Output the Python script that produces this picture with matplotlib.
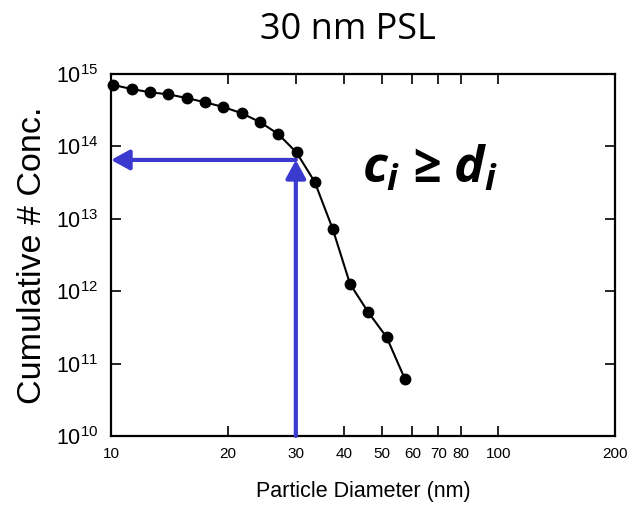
import matplotlib
matplotlib.use("Agg")
import matplotlib.pyplot as plt
from matplotlib.ticker import FixedLocator, FixedFormatter, LogLocator, LogFormatterMathtext, NullLocator

# ---- data ----
diameter_nm = [10.14, 11.31, 12.61, 14.06, 15.68, 17.48, 19.50, 21.75, 24.24,
               27.03, 30.12, 33.55, 37.36, 41.40, 46.16, 51.48, 57.41]
cum_conc = [7.05e14, 6.2e14, 5.59e14, 5.24e14, 4.66e14, 4.07e14, 3.50e14, 2.87e14,
            2.17e14, 1.48e14, 8.24e13, 3.25e13, 7.22e12, 1.26e12, 5.11e11, 2.31e11, 6.07e10]
x_ticks = [10, 20, 30, 40, 50, 60, 70, 80, 100, 200]
x_tick_labels = ["10", "20", "30", "40", "50", "60", "70", "80", "100", "200"]
arrow_d = 30
arrow_c = 6.5e13
x_limits = [10, 200]
y_limits = [1e10, 1e15]

plt.rcParams['font.family'] = ['Liberation Sans', 'DejaVu Sans']
plt.rcParams['mathtext.fontset'] = 'custom'
plt.rcParams['mathtext.it'] = 'Open Sans:italic:bold'
plt.rcParams['mathtext.rm'] = 'Liberation Sans'

fig = plt.figure(figsize=(6.35, 5.08), dpi=100)
ax = fig.add_axes([111/635, 1-436/508, (615-111)/635, (436-74)/508])

ax.plot(diameter_nm, cum_conc, color='black', lw=1.5, marker='o', ms=7.5,
        markerfacecolor='black', markeredgecolor='black', zorder=3, clip_on=False)

ax.set_xscale('log')
ax.set_yscale('log')
ax.set_xlim(*x_limits)
ax.set_ylim(*y_limits)

ax.xaxis.set_major_locator(FixedLocator(x_ticks))
ax.xaxis.set_major_formatter(FixedFormatter(x_tick_labels))
ax.xaxis.set_minor_locator(NullLocator())
ax.yaxis.set_major_locator(LogLocator(base=10, numticks=10))
ax.yaxis.set_major_formatter(LogFormatterMathtext())
ax.yaxis.set_minor_locator(NullLocator())

ax.tick_params(which='major', direction='in', length=7.5, width=1.2,
               top=True, right=True)
ax.tick_params(axis='x', labelsize=11, pad=8)
ax.tick_params(axis='y', labelsize=15.5, pad=9)
for s in ax.spines.values():
    s.set_linewidth(1.6)

blue = '#3a3acf'
ap = dict(arrowstyle='-|>,head_length=1.1,head_width=0.6', mutation_scale=10,
          lw=3, color=blue, shrinkA=0, shrinkB=0)
ax.annotate('', xy=(x_limits[0], arrow_c), xytext=(arrow_d, arrow_c),
            arrowprops=ap, zorder=4, annotation_clip=False)
ax.annotate('', xy=(arrow_d, arrow_c), xytext=(arrow_d, y_limits[0]),
            arrowprops=ap, zorder=4, annotation_clip=False)

ax.set_xlabel('Particle Diameter (nm)', fontsize=15.5, labelpad=14)
ax.set_ylabel('Cumulative # Conc.', fontsize=24.5, labelpad=6)

fig.text(348/635, 1-30/508, '30 nm PSL', fontsize=26, family='Open Sans',
         ha='center', va='center')

ax.text(0.498, 0.735, r'$c_i$ ≥ $d_i$', transform=ax.transAxes, fontsize=37,
        family='Open Sans', fontweight='bold', fontstyle='italic', ha='left', va='center')

fig.savefig('out.png', dpi=100)
